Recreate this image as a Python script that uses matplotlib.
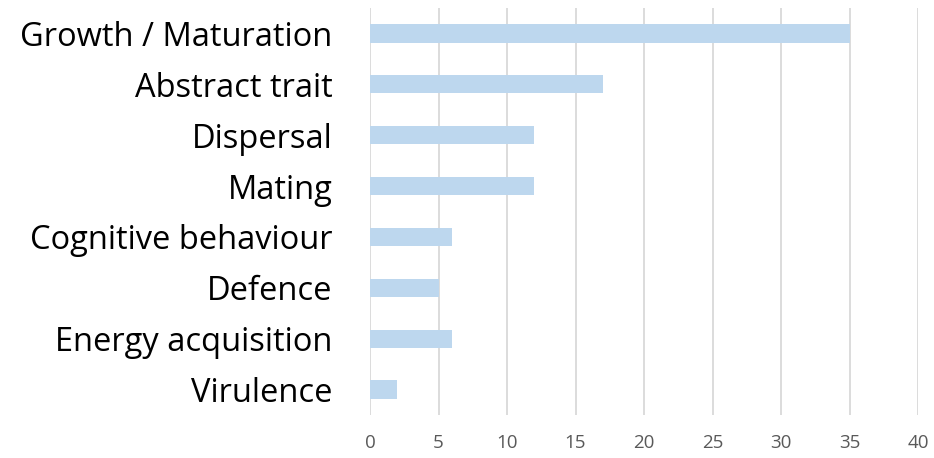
import matplotlib
matplotlib.use("Agg")
import matplotlib.pyplot as plt

categories = ["Growth / Maturation", "Abstract trait", "Dispersal", "Mating",
              "Cognitive behaviour", "Defence", "Energy acquisition", "Virulence"]
values = [35, 17, 12, 12, 6, 5, 6, 2]
xticks = [0, 5, 10, 15, 20, 25, 30, 35, 40]

plt.rcParams['font.family'] = ['Open Sans', 'DejaVu Sans']

fig = plt.figure(figsize=(9.34, 4.58), dpi=100)
ax = fig.add_axes([370/934, 1-415/458, (918-370)/934, (415-8)/458])

n = len(categories)
ypos = list(range(n))[::-1]
ax.barh(ypos, values, height=0.36, color="#BDD7EE", zorder=3)
ax.set_xlim(0, 40)
ax.set_ylim(-0.5, n-0.5)
ax.set_xticks(xticks)
ax.set_xticklabels([str(t) for t in xticks], fontsize=13.5, color="#595959")
ax.set_yticks(ypos)
ax.set_yticklabels(categories, fontsize=23.5, color="black")
ax.tick_params(axis='x', length=0, pad=14)
ax.tick_params(axis='y', length=0, pad=27)
ax.grid(axis='x', color="#D9D9D9", linewidth=1.3, zorder=0)
for s in ax.spines.values():
    s.set_visible(False)

fig.savefig("out.png", dpi=100)
